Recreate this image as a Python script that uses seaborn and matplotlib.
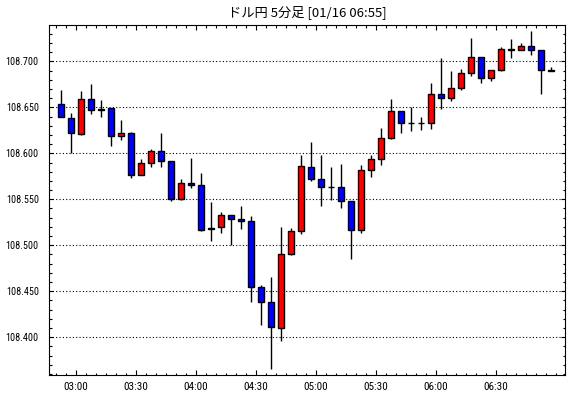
import matplotlib
matplotlib.use("Agg")
import matplotlib.pyplot as plt
from matplotlib import font_manager
from matplotlib.ticker import FixedLocator, MultipleLocator, FormatStrFormatter
import seaborn as sns
import numpy as np
import pandas as pd

# ---- data ----
times = ["02:50", "02:55", "03:00", "03:05", "03:10", "03:15", "03:20", "03:25", "03:30", "03:35",
         "03:40", "03:45", "03:50", "03:55", "04:00", "04:05", "04:10", "04:15", "04:20", "04:25",
         "04:30", "04:35", "04:40", "04:45", "04:50", "04:55", "05:00", "05:05", "05:10", "05:15",
         "05:20", "05:25", "05:30", "05:35", "05:40", "05:45", "05:50", "05:55", "06:00", "06:05",
         "06:10", "06:15", "06:20", "06:25", "06:30", "06:35", "06:40", "06:45", "06:50", "06:55"]
opens = [108.654, 108.638, 108.621, 108.659, 108.648, 108.649, 108.619, 108.622, 108.576, 108.590,
         108.603, 108.592, 108.550, 108.568, 108.566, 108.519, 108.520, 108.533, 108.529, 108.526,
         108.455, 108.438, 108.410, 108.491, 108.516, 108.585, 108.572, 108.563, 108.563, 108.548,
         108.517, 108.582, 108.594, 108.617, 108.646, 108.633, 108.633, 108.633, 108.664, 108.660,
         108.671, 108.687, 108.705, 108.682, 108.691, 108.713, 108.712, 108.717, 108.712, 108.691]
highs = [108.669, 108.644, 108.668, 108.675, 108.658, 108.649, 108.636, 108.623, 108.594, 108.605,
         108.622, 108.592, 108.572, 108.595, 108.579, 108.547, 108.536, 108.533, 108.543, 108.532,
         108.457, 108.465, 108.520, 108.519, 108.598, 108.612, 108.598, 108.585, 108.588, 108.548,
         108.587, 108.598, 108.628, 108.659, 108.646, 108.650, 108.639, 108.676, 108.704, 108.690,
         108.692, 108.725, 108.705, 108.691, 108.716, 108.724, 108.720, 108.733, 108.712, 108.694]
lows = [108.639, 108.600, 108.620, 108.643, 108.639, 108.608, 108.615, 108.573, 108.576, 108.585,
        108.585, 108.548, 108.549, 108.562, 108.515, 108.505, 108.513, 108.500, 108.518, 108.438,
        108.413, 108.366, 108.396, 108.489, 108.512, 108.570, 108.543, 108.549, 108.541, 108.485,
        108.513, 108.574, 108.587, 108.616, 108.622, 108.624, 108.625, 108.626, 108.648, 108.657,
        108.669, 108.684, 108.676, 108.679, 108.690, 108.704, 108.712, 108.707, 108.665, 108.690]
closes = [108.639, 108.622, 108.659, 108.647, 108.647, 108.619, 108.622, 108.576, 108.590, 108.603,
          108.592, 108.550, 108.568, 108.565, 108.517, 108.518, 108.533, 108.529, 108.526, 108.455,
          108.438, 108.411, 108.490, 108.515, 108.586, 108.572, 108.563, 108.563, 108.548, 108.517,
          108.582, 108.594, 108.617, 108.646, 108.633, 108.633, 108.633, 108.664, 108.660, 108.671,
          108.687, 108.705, 108.682, 108.691, 108.713, 108.712, 108.717, 108.712, 108.691, 108.690]
xtick_labels = ["03:00", "03:30", "04:00", "04:30", "05:00", "05:30", "06:00", "06:30"]
ytick_values = [108.400, 108.450, 108.500, 108.550, 108.600, 108.650, 108.700]
title = "ドル円 5分足 [01/16 06:55]"

df = pd.DataFrame({"time": times, "open": opens, "high": highs, "low": lows, "close": closes})
df["pos"] = np.arange(len(df))

# ---- style ----
sns.set_theme(style="ticks")
names = {f.name for f in font_manager.fontManager.ttflist}
tick_font = "DejaVu Sans"
for cand in ["Liberation Sans Narrow", "DejaVu Sans Condensed", "Roboto Condensed", "Roboto"]:
    if cand in names:
        tick_font = cand
        break
plt.rcParams["font.family"] = [tick_font, "DejaVu Sans"]
plt.rcParams["font.stretch"] = "condensed"
plt.rcParams["axes.edgecolor"] = "black"
plt.rcParams["axes.linewidth"] = 0.8

fig = plt.figure(figsize=(5.7, 3.98), dpi=100)
ax = fig.add_axes([49.3 / 570, 23 / 398, (565 - 49.3) / 570, (375 - 24.7) / 398])
ax.set_facecolor("white")

up = df["close"] >= df["open"]
colors = np.where(up, "#ff0000", "#0000ff")

ax.vlines(df["pos"], df["low"], df["high"], color="black", linewidth=1.0, zorder=2)
ax.bar(df["pos"], df["close"] - df["open"], bottom=df["open"], width=0.6,
       color=colors, edgecolor="black", linewidth=1.0, zorder=3)

# axes limits / ticks
ax.set_xlim(-1.14, 50.43)
ax.set_ylim(108.359, 108.7398)
major_x = [1.5 + 6 * k for k in range(len(xtick_labels))]
ax.xaxis.set_major_locator(FixedLocator(major_x))
ax.set_xticklabels(xtick_labels)
ax.xaxis.set_minor_locator(FixedLocator([i - 0.5 for i in range(0, 51)]))
ax.yaxis.set_major_locator(FixedLocator(ytick_values))
ax.yaxis.set_major_formatter(FormatStrFormatter("%.3f"))
ax.yaxis.set_minor_locator(MultipleLocator(0.01))

ax.tick_params(axis="both", which="both", direction="in", top=True, right=True,
               colors="black", labelcolor="black", width=0.8)
ax.tick_params(axis="x", which="major", length=3.6, pad=5.0, labelsize=8)
ax.tick_params(axis="x", which="minor", length=1.8)
ax.tick_params(axis="y", which="major", length=2.9, pad=7.5, labelsize=7.3)
ax.tick_params(axis="y", which="minor", length=1.8)

ax.grid(axis="y", which="major", color="black", linestyle=(0, (1, 2)), linewidth=0.8)
ax.grid(axis="x", visible=False)
ax.set_axisbelow(True)
for s in ax.spines.values():
    s.set_visible(True)
    s.set_color("black")
    s.set_linewidth(0.8)

ax.set_xlabel("")
ax.set_ylabel("")
fig.text(307 / 570, 1 - 12 / 398, title, ha="center", va="center", fontsize=9.5,
         family=["Noto Sans CJK JP", "DejaVu Sans"], color="black")

fig.savefig("out.png", dpi=100, facecolor="white")
